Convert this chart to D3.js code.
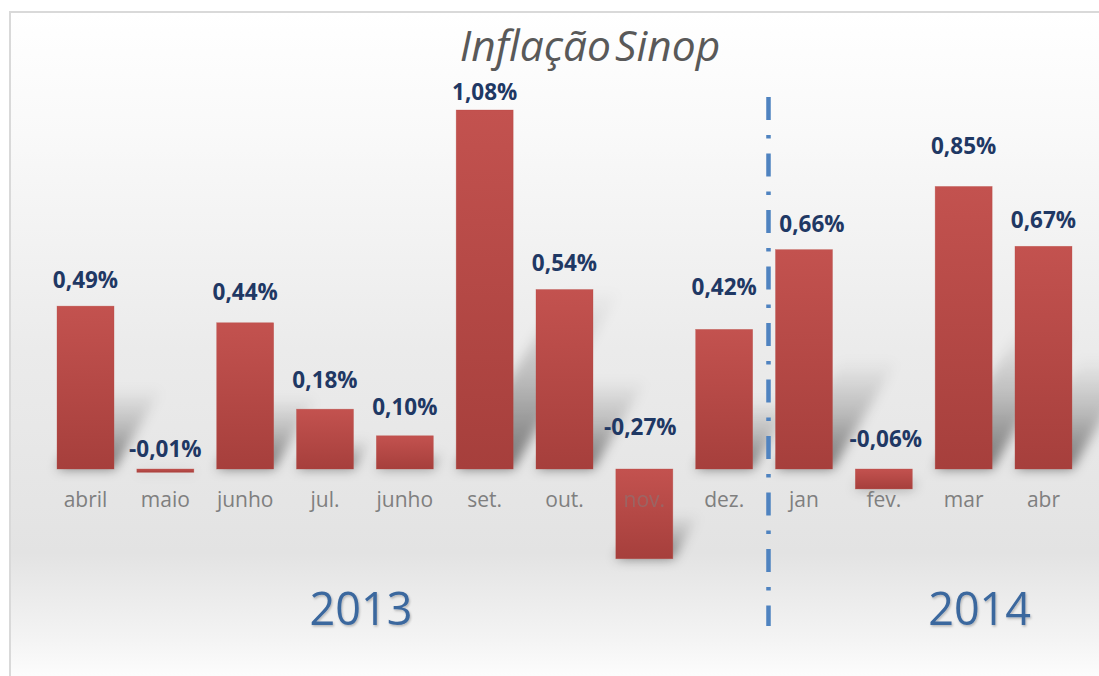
<!DOCTYPE html>
<html><head><meta charset="utf-8">
<script src="https://cdn.jsdelivr.net/npm/d3@7"></script>
<style>body{margin:0;background:#fff}svg{display:block}</style>
</head><body><svg id="c" width="1099" height="676"></svg>
<script>
const title = "Inflação Sinop";
const categories = ["abril","maio","junho","jul.","junho","set.","out.","nov.","dez.","jan","fev.","mar","abr"];
const values = [0.49,-0.01,0.44,0.18,0.10,1.08,0.54,-0.27,0.42,0.66,-0.06,0.85,0.67];
const valueLabels = ["0,49%","-0,01%","0,44%","0,18%","0,10%","1,08%","0,54%","-0,27%","0,42%","0,66%","-0,06%","0,85%","0,67%"];
const years = ["2013","2014"];
const yearAnchor = [3.45, 11.2];
const labelGap = [18,12,23,21,21,10,19,34,34,18,22,32,18];
const labelShiftX = [0,0,0,0,0,0,0,-4,0,8,2,0,0];

const W = 1099, H = 676;
const svg = d3.select("#c");
const defs = svg.append("defs");

const bg = defs.append("linearGradient").attr("id","bg").attr("x1",0).attr("y1",0).attr("x2",0).attr("y2",1);
[[0,"#ffffff"],[0.18,"#f9f9f9"],[0.5,"#ebebeb"],[0.8,"#e3e3e3"],[0.93,"#f4f4f4"],[1,"#ffffff"]]
  .forEach(([o,c])=>bg.append("stop").attr("offset",o).attr("stop-color",c));

const bar = defs.append("linearGradient").attr("id","bar").attr("x1",0).attr("y1",0).attr("x2",0).attr("y2",1);
bar.append("stop").attr("offset",0).attr("stop-color","#c3524f");
bar.append("stop").attr("offset",1).attr("stop-color","#a63f3c");

const sh = defs.append("linearGradient").attr("id","sh").attr("x1",0).attr("y1",1).attr("x2",0).attr("y2",0);
sh.append("stop").attr("offset",0).attr("stop-color","#000").attr("stop-opacity",0.5);
sh.append("stop").attr("offset",0.5).attr("stop-color","#000").attr("stop-opacity",0.2);
sh.append("stop").attr("offset",1).attr("stop-color","#000").attr("stop-opacity",0);

defs.append("filter").attr("id","blur").attr("x","-50%").attr("y","-50%").attr("width","200%").attr("height","200%")
  .append("feGaussianBlur").attr("stdDeviation",6);
defs.append("filter").attr("id","soft").attr("filterUnits","userSpaceOnUse")
  .attr("x",740).attr("y",80).attr("width",60).attr("height",570)
  .append("feGaussianBlur").attr("stdDeviation",0.6);
const ts = defs.append("filter").attr("id","tshadow").attr("x","-10%").attr("y","-10%").attr("width","130%").attr("height","140%");
ts.append("feDropShadow").attr("dx",1).attr("dy",1.5).attr("stdDeviation",1.2).attr("flood-color","#000").attr("flood-opacity",0.25);

// panel
svg.append("rect").attr("x",10).attr("y",12).attr("width",W).attr("height",H).attr("fill","url(#bg)")
  .attr("stroke","#d9d9d9").attr("stroke-width",2);

const idx = d3.range(categories.length);
const x = d3.scaleBand().domain(idx).range([45.6,1083.4]).paddingInner(0.286).paddingOuter(0.143);
const y = d3.scaleLinear().domain([0,1.08]).range([469,110]);
const center = i => x(0) + x.bandwidth()/2 + i*x.step();

// shadows
const k = 0.3, s = 0.5;
svg.append("g").attr("filter","url(#blur)").selectAll("path").data(idx).join("path")
  .attr("d", i => {
    const x0 = x(i), x1 = x(i)+x.bandwidth();
    const base = values[i] >= 0 ? y(0) : y(values[i]);
    const h = Math.abs(y(values[i]) - y(0));
    return `M${x0},${base}L${x1},${base}L${x1+k*h},${base-s*h}L${x0+k*h},${base-s*h}Z`;
  })
  .attr("fill","url(#sh)");

// bars
svg.append("g").selectAll("rect").data(idx).join("rect")
  .attr("x", i => x(i)).attr("width", x.bandwidth())
  .attr("y", i => Math.min(y(values[i]), y(0)))
  .attr("height", i => Math.max(Math.abs(y(values[i]) - y(0)), 1))
  .attr("fill","url(#bar)")
  .attr("stroke","#b9473f").attr("stroke-opacity",0.5).attr("stroke-width",0.6);

// category labels
const xAxis = d3.axisBottom(x).tickSize(0).tickPadding(0).tickFormat(i => categories[i]);
const ax = svg.append("g").attr("transform","translate(0,492)").call(xAxis);
ax.select(".domain").remove();
ax.selectAll("text").attr("font-family","'Open Sans', sans-serif").attr("font-size",21)
  .attr("fill","#7f7f7f").attr("dy","0.71em")
  .attr("opacity", i => y(values[i]) > 500 ? 0.5 : 1);

// value labels
svg.append("g").selectAll("text").data(idx).join("text")
  .attr("x", i => center(i) + labelShiftX[i])
  .attr("y", i => y(Math.max(values[i],0)) - labelGap[i])
  .attr("text-anchor","middle")
  .attr("font-family","'Open Sans', sans-serif").attr("font-weight",700).attr("font-size",22.5)
  .attr("fill","#1f3864")
  .text(i => valueLabels[i]);

// divider
const dx = center(9) - x.bandwidth()/2 - 7;
svg.append("line").attr("x1",dx).attr("x2",dx).attr("y1",97).attr("y2",626)
  .attr("stroke","#4f83c0").attr("stroke-width",4.5)
  .attr("stroke-dasharray","23,15,3.5,15").attr("filter","url(#soft)");

// years
svg.append("g").selectAll("text").data(years).join("text")
  .attr("x",(d,i)=>center(yearAnchor[i])).attr("y",625)
  .attr("text-anchor","middle")
  .attr("font-family","'Open Sans', sans-serif").attr("font-size",45)
  .attr("fill","#3b679e").attr("filter","url(#tshadow)")
  .text(d=>d);

// title
svg.append("text").attr("x",590).attr("y",61).attr("text-anchor","middle")
  .attr("font-family","'Open Sans', sans-serif").attr("font-style","italic").attr("font-size",42.5)
  .attr("fill","#595959").attr("word-spacing",-7)
  .text(title);
</script></body></html>
